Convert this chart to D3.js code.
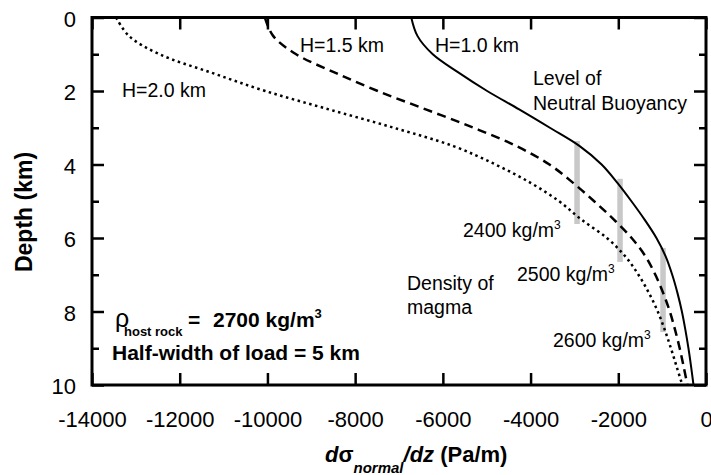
<!DOCTYPE html>
<html>
<head>
<meta charset="utf-8">
<script src="https://cdn.jsdelivr.net/npm/d3@7"></script>
<style>
body { margin: 0; background: #fff; }
text { font-family: Arial, "Liberation Sans", sans-serif; fill: #000; }
</style>
</head>
<body>
<svg class="chart"></svg>
<script>
var width = 711;
var height = 475;

// depth below surface (km) at which the curves were read
var depths = [0, 0.5, 1, 1.5, 2, 2.5, 3, 3.5, 4, 4.5, 5, 5.5, 6, 6.5, 7, 7.5, 8, 8.5, 9, 9.5, 10];

// d sigma_normal / dz (Pa/m) for each load height
var gradH10 = [-6720, -6580, -6230, -5640, -4990, -4260, -3560, -2880, -2380, -2020, -1700, -1400, -1130, -920, -770, -650, -550, -470, -400, -340, -285];
var gradH15 = [-10060, -9870, -9345, -8460, -7485, -6390, -5300, -4320, -3570, -3030, -2550, -2100, -1695, -1380, -1155, -975, -825, -705, -600, -510, -425];
var gradH20 = [-13450, -13160, -12460, -11280, -10050, -8600, -7120, -5760, -4800, -4000, -3350, -2840, -2260, -1840, -1540, -1300, -1100, -940, -800, -670, -540];

// level of neutral buoyancy bars
var barGrad = [-2940, -1960, -980];
var barTop = [3.36, 4.39, 6.27];
var barBottom = [5.62, 6.65, 8.56];

var xTicks = [-14000, -12000, -10000, -8000, -6000, -4000, -2000, 0];
var yMajor = [0, 2, 4, 6, 8, 10];
var yMinor = [1, 3, 5, 7, 9];

var plotL = 92, plotR = 706, plotT = 17.5, plotB = 385;

var x = d3.scaleLinear().domain([-14000, 0]).range([plotL, plotR]);
var y = d3.scaleLinear().domain([0, 10]).range([plotT, plotB]);

var chart = d3.select(".chart")
    .attr("width", width)
    .attr("height", height);

chart.append("defs").append("clipPath")
    .attr("id", "plotclip")
    .append("rect")
    .attr("x", plotL).attr("y", plotT)
    .attr("width", plotR - plotL).attr("height", plotB - plotT);

// gray bars first, curves go over them
chart.append("g").selectAll("line.bar")
    .data(barGrad)
    .enter()
    .append("line")
    .attr("class", "bar")
    .attr("x1", function(d) { return x(d); })
    .attr("x2", function(d) { return x(d); })
    .attr("y1", function(d, i) { return y(barTop[i]); })
    .attr("y2", function(d, i) { return y(barBottom[i]); })
    .attr("stroke", "#c8c8c8")
    .attr("stroke-width", 5.5);

var line = d3.line()
    .x(function(d) { return x(d[0]); })
    .y(function(d) { return y(d[1]); })
    .curve(d3.curveCatmullRom.alpha(0.5));

var series = [
    { vals: gradH10, dash: null, w: 2 },
    { vals: gradH15, dash: "9,5.5", w: 2.5 },
    { vals: gradH20, dash: "2.5,3.5", w: 2.5 }
];

var curves = chart.append("g").attr("clip-path", "url(#plotclip)");
series.forEach(function(s) {
    var pts = s.vals.map(function(v, i) { return [v, depths[i]]; });
    curves.append("path")
        .datum(pts)
        .attr("d", line)
        .attr("fill", "none")
        .attr("stroke", "#000")
        .attr("stroke-width", s.w)
        .attr("stroke-dasharray", s.dash);
});

function styleAxis(g, fs) {
    g.select(".domain").remove();
    g.selectAll(".tick line").attr("stroke", "#000").attr("stroke-width", 2.5);
    g.selectAll(".tick text").attr("fill", "#000").style("font-size", fs + "px");
}

var plain = function(d) { return String(d); };

chart.append("g")
    .attr("transform", "translate(0," + plotB + ")")
    .call(d3.axisBottom(x).tickValues(xTicks).tickSizeInner(-12).tickSizeOuter(0).tickPadding(26).tickFormat(plain))
    .call(styleAxis, 22);

chart.append("g")
    .attr("transform", "translate(0," + plotT + ")")
    .call(d3.axisTop(x).tickValues(xTicks).tickSizeInner(-12).tickSizeOuter(0).tickFormat(""))
    .call(styleAxis, 22);

var yl = chart.append("g")
    .attr("transform", "translate(" + plotL + ",0)")
    .call(d3.axisLeft(y).tickValues(yMajor).tickSizeInner(-12).tickSizeOuter(0).tickPadding(16).tickFormat(plain))
    .call(styleAxis, 22);
yl.selectAll(".tick text").attr("dy", "0.4em");

chart.append("g")
    .attr("transform", "translate(" + plotL + ",0)")
    .call(d3.axisLeft(y).tickValues(yMinor).tickSizeInner(-7).tickSizeOuter(0).tickFormat(""))
    .call(styleAxis, 22);

chart.append("g")
    .attr("transform", "translate(" + plotR + ",0)")
    .call(d3.axisRight(y).tickValues(yMajor).tickSizeInner(-12).tickSizeOuter(0).tickFormat(""))
    .call(styleAxis, 22);

chart.append("g")
    .attr("transform", "translate(" + plotR + ",0)")
    .call(d3.axisRight(y).tickValues(yMinor).tickSizeInner(-7).tickSizeOuter(0).tickFormat(""))
    .call(styleAxis, 22);

// frame
chart.append("rect")
    .attr("x", plotL).attr("y", plotT)
    .attr("width", plotR - plotL).attr("height", plotB - plotT)
    .attr("fill", "none")
    .attr("stroke", "#000")
    .attr("stroke-width", 3);

// axis titles
chart.append("text")
    .attr("transform", "translate(32,212) rotate(-90)")
    .attr("text-anchor", "middle")
    .style("font-size", "23px")
    .style("font-weight", "bold")
    .text("Depth (km)");

var xt = chart.append("text")
    .attr("x", 325).attr("y", 462)
    .style("font-size", "22px")
    .style("font-weight", "bold");
xt.append("tspan").style("font-style", "italic").text("d");
xt.append("tspan").text("σ");
xt.append("tspan").style("font-style", "italic").style("font-size", "15px").attr("dy", 11).text("normal");
xt.append("tspan").style("font-style", "italic").attr("dy", -11).text("/dz");
xt.append("tspan").text(" (Pa/m)");

// annotations
var fsA = "19.5px";
function note(tx, ty, str) {
    return chart.append("text").attr("x", tx).attr("y", ty).style("font-size", fsA).text(str);
}
note(435, 52, "H=1.0 km");
note(300, 52, "H=1.5 km");
note(122, 97, "H=2.0 km");
note(533, 85, "Level of");
note(533, 110, "Neutral Buoyancy");
note(407, 290, "Density of");
note(407, 314, "magma");

function density(tx, ty, str) {
    var t = chart.append("text").attr("x", tx).attr("y", ty).style("font-size", fsA);
    t.append("tspan").text(str + " kg/m");
    t.append("tspan").attr("dy", -8).style("font-size", "12px").text("3");
}
density(463, 237, "2400");
density(517, 281, "2500");
density(553, 347, "2600");

var rho = chart.append("text")
    .attr("x", 115).attr("y", 327)
    .style("font-size", "21px")
    .style("font-weight", "bold");
rho.append("tspan").style("font-size", "25px").style("font-weight", "normal").text("ρ");
rho.append("tspan").attr("x", 124).attr("dy", 9).style("font-size", "13px").text("host rock");
rho.append("tspan").attr("x", 188).attr("dy", -9).text("=");
rho.append("tspan").attr("x", 213).text("2700 kg/m");
rho.append("tspan").attr("dy", -9).style("font-size", "13px").text("3");

chart.append("text")
    .attr("x", 112).attr("y", 360)
    .style("font-size", "21px")
    .style("font-weight", "bold")
    .text("Half-width of load = 5 km");
</script>
</body>
</html>
